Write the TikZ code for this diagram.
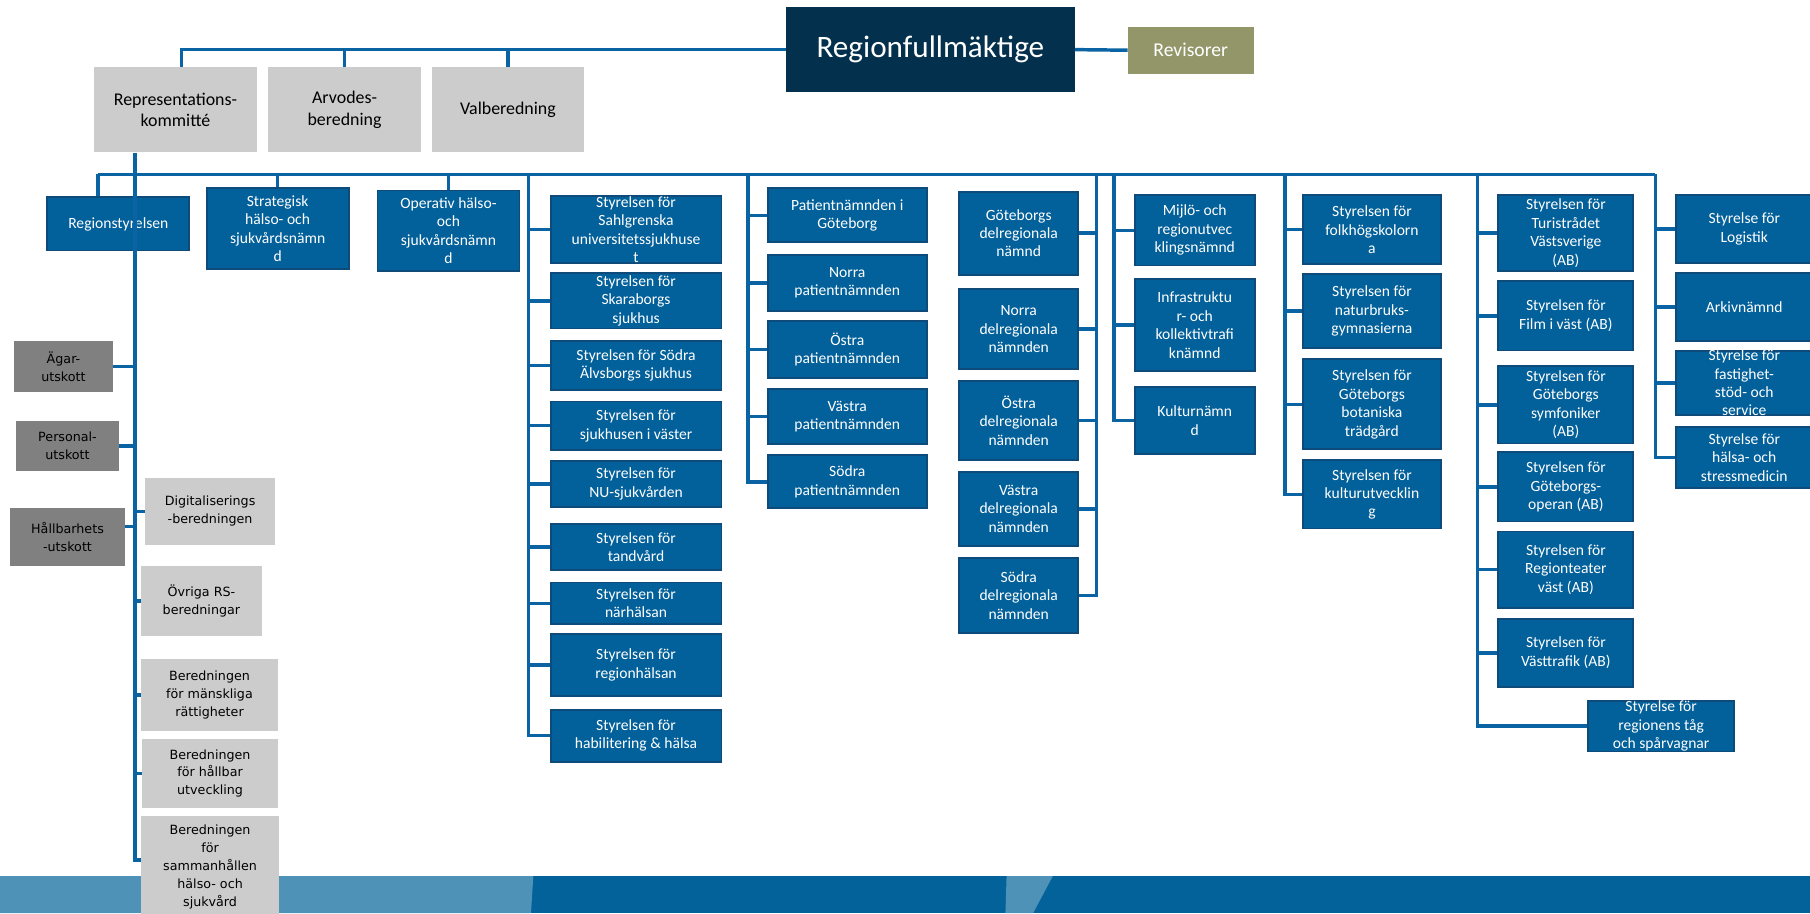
\documentclass[tikz,border=0pt]{standalone}
\usepackage{fontspec}
\setmainfont{Carlito}
\newfontfamily\verdanafont{DejaVu Sans}
\usetikzlibrary{positioning}

\definecolor{boxblue}{HTML}{02609A}
\definecolor{boxedge}{HTML}{0E4A7A}
\definecolor{wireblue}{HTML}{0A63A2}
\definecolor{rfnavy}{HTML}{03304D}
\definecolor{revolive}{HTML}{939669}
\definecolor{lightgrey}{HTML}{CCCCCC}
\definecolor{darkgrey}{HTML}{808080}
\definecolor{banddark}{HTML}{03629A}
\definecolor{bandlight}{HTML}{4E92B7}

\newcommand{\boxfont}{\fontsize{13.5}{16}\selectfont}
\newcommand{\topfont}{\fontsize{15.5}{18.5}\selectfont}
\newcommand{\sidefont}{\verdanafont\fontsize{11}{15.5}\selectfont}

\tikzset{
  organ/.style={draw=boxedge, line width=1.6pt, fill=boxblue, text=white, font=\boxfont, align=center, inner sep=0pt},
  boxtext/.style={text=white, font=\boxfont, align=center},
  topbox/.style={fill=lightgrey, font=\topfont, align=center, inner sep=0pt},
  sidebox/.style={fill=lightgrey, font=\sidefont, align=center, inner sep=0pt},
  utskott/.style={sidebox, fill=darkgrey},
  wire/.style={draw=wireblue, line width=3pt},
}

\begin{document}
\begin{tikzpicture}[x=1pt, y=-1pt]
  \useasboundingbox (0,0) rectangle (1568,791);

  % band at the bottom
  \fill[banddark] (0,759) rectangle (1568,791);
  \fill[bandlight] (0,759) -- (462,759) -- (460,791) -- (0,791) -- cycle;
  \fill[bandlight] (872,759) -- (912,759) -- (895,791) -- (871,791) -- cycle;

  % top level
  \node[fill=rfnavy, text=white, font=\fontsize{27}{30}\selectfont, minimum width=250pt, minimum height=74pt] (rf) at (806,43) {Regionfullmäktige};
  \node[fill=revolive, text=white, font=\fontsize{17}{20}\selectfont, minimum width=109pt, minimum height=41pt] (rev) at (1031.5,43.5) {Revisorer};
  \node[topbox, minimum width=142pt, minimum height=74pt] (repr) at (152,95) {Representations-\\kommitté};
  \node[topbox, minimum width=133pt, minimum height=74pt] (arvo) at (298.5,95) {Arvodes-\\beredning};
  \node[topbox, minimum width=132pt, minimum height=74pt] (valb) at (440,95) {Valberedning};

  % first row
  \node[organ, minimum width=123pt, minimum height=46pt] (rs) at (102.5,194) {Regionstyrelsen};
  \node[organ, minimum width=123pt, minimum height=70pt] (strat) at (240.5,198) {Strategisk\\hälso- och\\sjukvårdsnämn\\d};
  \node[organ, minimum width=123pt, minimum height=70pt] (oper) at (388.5,200) {Operativ hälso-\\och\\sjukvårdsnämn\\d};

  % sjukhus
  \node[organ, minimum width=148pt, minimum height=58pt] (sahl) at (551,199) {Styrelsen för\\Sahlgrenska\\universitetssjukhuse\\t};
  \node[organ, minimum width=148pt, minimum height=48pt, below=7pt of sahl] (skar) {Styrelsen för\\Skaraborgs\\sjukhus};
  \node[organ, minimum width=148pt, minimum height=43pt, below=9pt of skar] (salv) {Styrelsen för Södra\\Älvsborgs sjukhus};
  \node[organ, minimum width=148pt, minimum height=42pt, below=8pt of salv] (svast) {Styrelsen för\\sjukhusen i väster};
  \node[organ, minimum width=148pt, minimum height=40pt, below=8pt of svast] (nusj) {Styrelsen för\\NU-sjukvården};
  \node[organ, minimum width=148pt, minimum height=40pt, below=13pt of nusj] (tand) {Styrelsen för\\tandvård};
  \node[organ, minimum width=148pt, minimum height=36pt, below=9pt of tand] (narh) {Styrelsen för\\närhälsan};
  \node[organ, minimum width=148pt, minimum height=54pt, below=7pt of narh] (regh) {Styrelsen för\\regionhälsan};
  \node[organ, minimum width=148pt, minimum height=45pt, below=10pt of regh] (habil) {Styrelsen för\\habilitering \& hälsa};

  % patientnämnder
  \node[organ, minimum width=138pt, minimum height=47pt] (patG) at (734,186.5) {Patientnämnden i\\Göteborg};
  \node[organ, minimum width=138pt, minimum height=49pt, below=9pt of patG] (patN) {Norra\\patientnämnden};
  \node[organ, minimum width=138pt, minimum height=49pt, below=7pt of patN] (patO) {Östra\\patientnämnden};
  \node[organ, minimum width=138pt, minimum height=48pt, below=8pt of patO] (patV) {Västra\\patientnämnden};
  \node[organ, minimum width=138pt, minimum height=46pt, below=8pt of patV] (patS) {Södra\\patientnämnden};

  % delregionala
  \node[organ, minimum width=103pt, minimum height=72pt] (delG) at (882.5,202) {Göteborgs\\delregionala\\nämnd};
  \node[organ, minimum width=103pt, minimum height=69pt, below=11pt of delG] (delN) {Norra\\delregionala\\nämnden};
  \node[organ, minimum width=103pt, minimum height=68pt, below=9pt of delN] (delO) {Östra\\delregionala\\nämnden};
  \node[organ, minimum width=103pt, minimum height=64pt, below=9pt of delO] (delV) {Västra\\delregionala\\nämnden};
  \node[organ, minimum width=103pt, minimum height=65pt, below=9pt of delV] (delS) {Södra\\delregionala\\nämnden};

  % nämnder
  \node[organ, minimum width=104pt, minimum height=61pt] (milj) at (1035,199.5) {Mijlö- och\\regionutvec\\klingsnämnd};
  \node[organ, minimum width=104pt, minimum height=80pt, below=10pt of milj] (infra) {Infrastruktu\\r- och\\kollektivtrafi\\knämnd};
  \node[organ, minimum width=104pt, minimum height=58pt, below=12pt of infra] (kult) {Kulturnämn\\d};

  % styrelser
  \node[organ, minimum width=119pt, minimum height=60pt] (folk) at (1188.5,199) {Styrelsen för\\folkhögskolorn\\a};
  \node[organ, minimum width=119pt, minimum height=64pt, below=7pt of folk] (natur) {Styrelsen för\\naturbruks-\\gymnasierna};
  \node[organ, minimum width=119pt, minimum height=78pt, below=8pt of natur] (bota) {Styrelsen för\\Göteborgs\\botaniska\\trädgård};
  \node[organ, minimum width=119pt, minimum height=59pt, below=8pt of bota] (kulut) {Styrelsen för\\kulturutvecklin\\g};

  % bolag
  \node[organ, minimum width=117pt, minimum height=66pt] (turi) at (1356.5,202) {Styrelsen för\\Turistrådet\\Västsverige\\(AB)};
  \node[organ, minimum width=117pt, minimum height=60pt, below=7pt of turi] (film) {Styrelsen för\\Film i väst (AB)};
  \node[organ, minimum width=117pt, minimum height=67pt, below=12pt of film] (symf) {Styrelsen för\\Göteborgs\\symfoniker\\(AB)};
  \node[organ, minimum width=117pt, minimum height=60pt, below=6pt of symf] (opera) {Styrelsen för\\Göteborgs-\\operan (AB)};
  \node[organ, minimum width=117pt, minimum height=66pt, below=7pt of opera] (regt) {Styrelsen för\\Regionteater\\väst (AB)};
  \node[organ, minimum width=117pt, minimum height=59pt, below=8pt of regt] (vtraf) {Styrelsen för\\Västtrafik (AB)};
  \node[organ, minimum width=126pt, minimum height=44pt] (tag) at (1439,629) {Styrelse för\\regionens tåg\\och spårvagnar};

  % stöd
  \node[organ, minimum width=118pt, minimum height=59pt] (logi) at (1511,198.5) {Styrelse för\\Logistik};
  \node[organ, minimum width=118pt, minimum height=59pt, below=7pt of logi] (arkiv) {Arkivnämnd};
  \node[organ, minimum width=118pt, minimum height=55pt, below=7pt of arkiv,
        label={[boxtext]center:{Styrelse för\\fastighet-\\stöd- och\\service}}] (fast) {};
  \node[organ, minimum width=118pt, minimum height=53pt, below=9pt of fast] (halsa) {Styrelse för\\hälsa- och\\stressmedicin};

  % regionstyrelsen
  \node[utskott, minimum width=86pt, minimum height=45pt] (agar) at (55,317.5) {Ägar-\\utskott};
  \node[utskott, minimum width=89pt, minimum height=43pt] (pers) at (58.5,386.5) {Personal-\\utskott};
  \node[utskott, minimum width=99pt, minimum height=50pt] (hallb) at (58.5,465) {Hållbarhets\\-utskott};
  \node[sidebox, minimum width=112pt, minimum height=58pt] (digi) at (182,443) {Digitaliserings\\-beredningen};
  \node[sidebox, minimum width=105pt, minimum height=61pt] (ovr) at (174.5,520.5) {Övriga RS-\\beredningar};
  \node[sidebox, minimum width=119pt, minimum height=62pt] (mansk) at (181.5,602) {Beredningen\\för mänskliga\\rättigheter};
  \node[sidebox, minimum width=118pt, minimum height=60pt] (hutv) at (182,670) {Beredningen\\för hållbar\\utveckling};
  \node[sidebox, minimum width=120pt, minimum height=88pt] (samm) at (182,751) {Beredningen\\för\\sammanhållen\\hälso- och\\sjukvård};

  % connectors
  \coordinate (busL) at (85,151);
  \coordinate (busR) at (1434,151);
  \coordinate (trunk) at (117,745);
  \coordinate (c3) at (458,151);
  \coordinate (c4) at (648,151);
  \coordinate (c5) at (950,151);
  \coordinate (c6) at (965,151);
  \coordinate (c7) at (1113,151);
  \coordinate (c8) at (1280,151);

  \draw[wire] (rf.west) -| ([xshift=5pt]repr.north);
  \draw[wire] (rf.west) -| (arvo.north);
  \draw[wire] (rf.west) -| (valb.north);
  \draw[wire] (rf.east) -- (rev.west);

  \draw[wire] (busL) -- (busR);
  \draw[wire] (busL) -- (busL |- rs.north);
  \draw[wire] (strat.north) -- (strat.north |- busL);
  \draw[wire] (oper.north) -- (oper.north |- busL);
  \draw[wire] (repr.south -| trunk) -- (trunk) -- (trunk -| samm.west);

  \draw[wire] (agar.east) -- (agar.east -| trunk);
  \draw[wire] (pers.east) -- (pers.east -| trunk);
  \draw[wire] ([yshift=9pt]hallb.east) -- ([yshift=9pt]hallb.east -| trunk);
  \draw[wire] (digi.west) -- (digi.west -| trunk);
  \draw[wire] (ovr.west) -- (ovr.west -| trunk);
  \draw[wire] (mansk.west) -- (mansk.west -| trunk);
  \draw[wire] (hutv.west) -- (hutv.west -| trunk);

  \draw[wire] (c3) |- (habil.west);
  \draw[wire] (sahl.west) -- (sahl.west -| c3) (skar.west) -- (skar.west -| c3)
    (salv.west) -- (salv.west -| c3) (svast.west) -- (svast.west -| c3)
    (nusj.west) -- (nusj.west -| c3) (tand.west) -- (tand.west -| c3)
    (narh.west) -- (narh.west -| c3) (regh.west) -- (regh.west -| c3);

  \draw[wire] (c4) |- (patS.west);
  \draw[wire] (patG.west) -- (patG.west -| c4) (patN.west) -- (patN.west -| c4)
    (patO.west) -- (patO.west -| c4) (patV.west) -- (patV.west -| c4);

  \draw[wire] (c5) |- (delS.east);
  \draw[wire] (delG.east) -- (delG.east -| c5) (delN.east) -- (delN.east -| c5)
    (delO.east) -- (delO.east -| c5) (delV.east) -- (delV.east -| c5);

  \draw[wire] (c6) |- (kult.west);
  \draw[wire] (milj.west) -- (milj.west -| c6) (infra.west) -- (infra.west -| c6);

  \draw[wire] (c7) |- (kulut.west);
  \draw[wire] (folk.west) -- (folk.west -| c7) (natur.west) -- (natur.west -| c7)
    (bota.west) -- (bota.west -| c7);

  \draw[wire] (c8) |- (tag.west);
  \draw[wire] (turi.west) -- (turi.west -| c8) (film.west) -- (film.west -| c8)
    (symf.west) -- (symf.west -| c8) (opera.west) -- (opera.west -| c8)
    (regt.west) -- (regt.west -| c8) (vtraf.west) -- (vtraf.west -| c8);

  \draw[wire] (busR) |- (halsa.west);
  \draw[wire] (logi.west) -- (logi.west -| busR) (arkiv.west) -- (arkiv.west -| busR)
    (fast.west) -- (fast.west -| busR);
\end{tikzpicture}
\end{document}
